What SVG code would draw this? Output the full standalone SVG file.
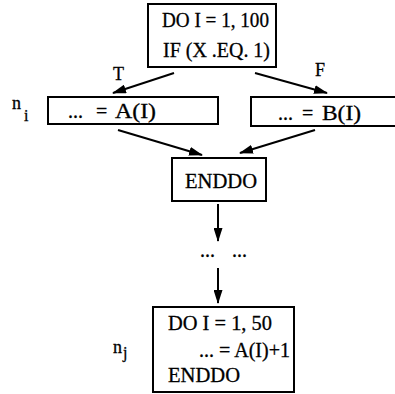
<svg xmlns="http://www.w3.org/2000/svg" width="395" height="394" viewBox="0 0 395 394">
<style>
.box{fill:#fff;stroke:#000;stroke-width:2}
.t{font-family:"Liberation Serif","Times New Roman",serif;font-size:20px;fill:#000;stroke:#000;stroke-width:0.3}
.lbl{font-family:"Liberation Serif","Times New Roman",serif;font-size:18px;fill:#000;stroke:#000;stroke-width:0.3}
.sub{font-family:"Liberation Serif","Times New Roman",serif;font-size:16px;fill:#000;stroke:#000;stroke-width:0.3}
.edge{stroke:#000;stroke-width:2;fill:none;marker-end:url(#ah)}
</style>
<defs>
<marker id="ah" viewBox="0 0 14 10" refX="13" refY="5" markerWidth="14" markerHeight="9" markerUnits="userSpaceOnUse" orient="auto" preserveAspectRatio="none">
<path d="M0,0 L14,5 L0,10 z" fill="#000"/>
</marker>
</defs>
<rect width="395" height="394" fill="#fff"/>
<g id="connectors">
<line class="edge" x1="174" y1="73" x2="113" y2="93"/>
<line class="edge" x1="255" y1="73" x2="327" y2="93"/>
<line class="edge" x1="118" y1="130" x2="202" y2="155"/>
<line class="edge" x1="315" y1="130" x2="240" y2="153"/>
<line class="edge" x1="218" y1="204" x2="218" y2="241"/>
<line class="edge" x1="218" y1="268" x2="218" y2="303"/>
<text class="lbl" x="113" y="80">T</text>
<text class="lbl" x="315" y="76">F</text>
</g>
<g id="n_top">
<rect class="box" x="148" y="4" width="128" height="63"/>
<text class="t" x="162" y="27" textLength="107" lengthAdjust="spacingAndGlyphs">DO I = 1, 100</text>
<text class="t" x="163" y="57" textLength="107" lengthAdjust="spacingAndGlyphs">IF (X .EQ. 1)</text>
</g>
<g id="n_i">
<rect class="box" x="48" y="97" width="170" height="27"/>
<text class="t" y="118"><tspan x="68">...</tspan><tspan x="96">=</tspan><tspan x="115" textLength="41" lengthAdjust="spacingAndGlyphs">A(I)</tspan></text>
<text class="lbl" x="12" y="109">n</text>
<text class="sub" x="24" y="121">i</text>
</g>
<g id="n_b">
<rect class="box" x="251" y="97" width="145" height="29"/>
<text class="t" y="120"><tspan x="278">...</tspan><tspan x="302">=</tspan><tspan x="322" textLength="39" lengthAdjust="spacingAndGlyphs">B(I)</tspan></text>
</g>
<g id="n_enddo">
<rect class="box" x="172" y="158" width="94" height="43"/>
<text class="t" x="185" y="188" textLength="72" lengthAdjust="spacingAndGlyphs">ENDDO</text>
</g>
<g id="n_dots">
<text class="t" y="257"><tspan x="200">...</tspan><tspan x="232">...</tspan></text>
</g>
<g id="n_j">
<rect class="box" x="153" y="307" width="141" height="85"/>
<text class="t" x="168" y="330" textLength="104" lengthAdjust="spacingAndGlyphs">DO I = 1, 50</text>
<text class="t" x="199" y="357" textLength="91" lengthAdjust="spacingAndGlyphs">... = A(I)+1</text>
<text class="t" x="168" y="382" textLength="72" lengthAdjust="spacingAndGlyphs">ENDDO</text>
<text class="lbl" x="113" y="353">n</text>
<text class="sub" x="123" y="358">j</text>
</g>
</svg>
